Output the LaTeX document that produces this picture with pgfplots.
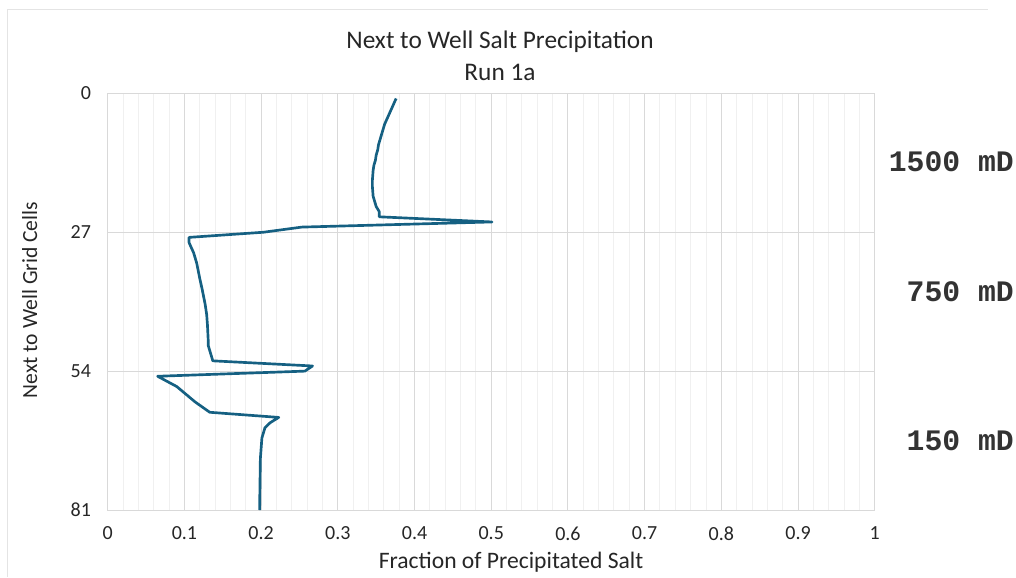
\documentclass[border=0pt]{standalone}
\usepackage{pgfplots}
\pgfplotsset{compat=1.18}
\usepackage{fontspec}
\setmainfont{Carlito}
\newfontfamily\labelmono{Liberation Mono}

\definecolor{series}{HTML}{156082}
\definecolor{majorgrid}{HTML}{D9D9D9}
\definecolor{minorgrid}{HTML}{F0F0F0}
\definecolor{framegrey}{HTML}{E4E4E4}

\begin{document}
\begin{tikzpicture}
\begin{axis}[
  at={(0,0)}, anchor=south west,
  scale only axis, width=575.25pt, height=312.5pt,
  xmin=0, xmax=1, ymin=0, ymax=81, y dir=reverse,
  xtick={0,0.1,0.2,0.3,0.4,0.5,0.6,0.7,0.8,0.9,1},
  xticklabels={0,0.1,0.2,0.3,0.4,0.5,0.6,0.7,0.8,0.9,1},
  minor x tick num=4,
  ytick={0,27,54,81},
  grid=both,
  major grid style={draw=majorgrid, line width=0.75pt},
  minor grid style={draw=minorgrid, line width=0.75pt},
  axis line style={draw=majorgrid, line width=0.75pt},
  major tick length=0pt, minor tick length=0pt,
  /pgf/number format/assume math mode=true,
  ticklabel style={font=\fontsize{15}{17}\selectfont, text=black!85},
  xticklabel style={yshift=-9pt},
  yticklabel style={xshift=-9pt},
]
\addplot[series, line width=2pt, line join=round] table {
x y
0.376 1
0.373 2
0.370 3
0.367 4
0.364 5
0.361 6
0.359 7
0.357 8
0.355 9
0.353 10
0.352 11
0.350 12
0.349 13
0.347 14
0.346 15
0.3455 16
0.345 17
0.345 18
0.3455 19
0.346 20
0.348 21
0.350 22
0.354 23
0.354 24
0.501 25
0.253 26
0.203 27
0.106 28
0.106 29
0.112 31
0.116 33
0.120 36
0.123 38
0.127 41
0.129 43
0.130 45
0.131 48
0.131 49
0.137 52
0.267 53
0.257 54
0.065 55
0.090 57
0.114 60
0.133 62
0.223 63
0.212 64
0.205 65
0.201 67
0.199 71
0.198 81
};
\end{axis}
% chart frame (top and left edges)
\draw[framegrey, line width=0.75pt] (-75.5pt,-50.25pt) -- (-75.5pt,375pt) -- (660.5pt,375pt);
% titles and axis labels
\node[anchor=base, font=\fontsize{19}{22}\selectfont, text=black!85] at (294.2pt,346.3pt) {Next to Well Salt Precipitation};
\node[anchor=base, font=\fontsize{19}{22}\selectfont, text=black!85] at (294.2pt,321.75pt) {Run 1a};
\node[anchor=base, font=\fontsize{17.7}{20}\selectfont, text=black!85] at (302.5pt,-43.5pt) {Fraction of Precipitated Salt};
\node[anchor=base, font=\fontsize{16.2}{19}\selectfont, text=black!85, rotate=90] at (-53pt,157.5pt) {Next to Well Grid Cells};
% permeability of each layer
\node[anchor=east, inner sep=0pt, font=\labelmono\bfseries\fontsize{22.3}{24}\selectfont, text=black!80] at (679.7pt,261pt) {1500 mD};
\node[anchor=east, inner sep=0pt, font=\labelmono\bfseries\fontsize{22.3}{24}\selectfont, text=black!80] at (679.7pt,163.5pt) {750 mD};
\node[anchor=east, inner sep=0pt, font=\labelmono\bfseries\fontsize{22.3}{24}\selectfont, text=black!80] at (679.7pt,51.75pt) {150 mD};
\path[use as bounding box] (-80.8pt,-50.25pt) rectangle (681.2pt,382.5pt);
\end{tikzpicture}
\end{document}
